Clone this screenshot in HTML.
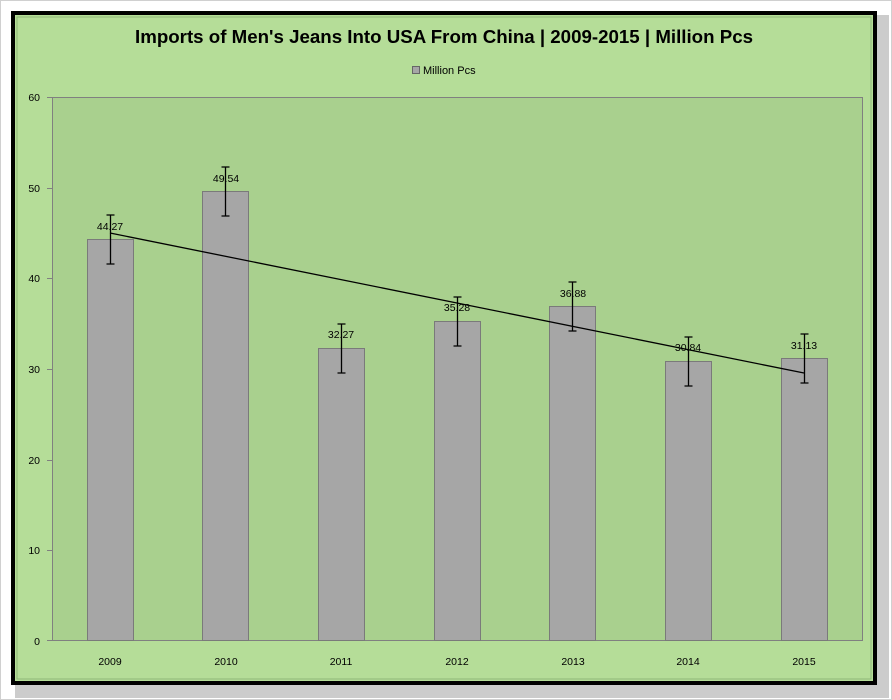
<!DOCTYPE html>
<html><head><meta charset="utf-8"><style>
body{margin:0;background:#fff;}
svg{display:block;font-family:"Liberation Sans",sans-serif;}
</style></head><body>
<svg width="892" height="700" viewBox="0 0 892 700">
<rect x="0.5" y="0.5" width="891" height="699" fill="#fff" stroke="#d0d0d0"/>
<rect x="15" y="15" width="874" height="683" fill="#9a9a9a" opacity="0.5"/>
<rect x="11" y="11" width="866" height="674" fill="#000"/>
<rect x="15" y="15" width="858" height="666" fill="#b5dd98"/>
<rect x="17" y="17" width="854" height="662" fill="none" stroke="#8fb878" stroke-width="1"/>
<text x="135" y="43" textLength="618" lengthAdjust="spacingAndGlyphs" font-size="18" font-weight="bold" fill="#000">Imports of Men's Jeans Into USA From China  | 2009-2015 | Million Pcs</text>
<rect x="412.5" y="66.5" width="7" height="7" fill="#a6a6a6" stroke="#666"/>
<text x="423" y="74" font-size="11" fill="#000">Million Pcs</text>
<rect x="52.5" y="97.5" width="810" height="543" fill="#a9d08e" stroke="#808080"/>
<g font-size="10.5" fill="#000" text-anchor="end">
<text x="40" y="101">60</text><text x="40" y="192">50</text><text x="40" y="282">40</text>
<text x="40" y="373">30</text><text x="40" y="464">20</text><text x="40" y="554">10</text><text x="40" y="645">0</text>
</g>
<g stroke="#808080"><line x1="47" y1="97.5" x2="52" y2="97.5"/><line x1="47" y1="188.5" x2="52" y2="188.5"/><line x1="47" y1="278.5" x2="52" y2="278.5"/><line x1="47" y1="369.5" x2="52" y2="369.5"/><line x1="47" y1="460.5" x2="52" y2="460.5"/><line x1="47" y1="550.5" x2="52" y2="550.5"/><line x1="47" y1="640.5" x2="52" y2="640.5"/></g>
<g fill="#a6a6a6" stroke="#7a7a7a">
<rect x="87.5" y="239.5" width="46" height="401"/>
<rect x="202.5" y="191.5" width="46" height="449"/>
<rect x="318.5" y="348.5" width="46" height="292"/>
<rect x="434.5" y="321.5" width="46" height="319"/>
<rect x="549.5" y="306.5" width="46" height="334"/>
<rect x="665.5" y="361.5" width="46" height="279"/>
<rect x="781.5" y="358.5" width="46" height="282"/>
</g>
<g stroke="#000" stroke-width="1.3">
<path d="M110.5 215v49M106.5 215h8M106.5 264h8"/>
<path d="M225.5 167v49M221.5 167h8M221.5 216h8"/>
<path d="M341.5 324v49M337.5 324h8M337.5 373h8"/>
<path d="M457.5 297v49M453.5 297h8M453.5 346h8"/>
<path d="M572.5 282v49M568.5 282h8M568.5 331h8"/>
<path d="M688.5 337v49M684.5 337h8M684.5 386h8"/>
<path d="M804.5 334v49M800.5 334h8M800.5 383h8"/>
<line x1="110" y1="233" x2="804" y2="373"/>
</g>
<g font-size="10.5" fill="#000" text-anchor="middle">
<text x="110" y="230">44.27</text><text x="226" y="182">49.54</text><text x="341" y="338">32.27</text>
<text x="457" y="311">35.28</text><text x="573" y="297">36.88</text><text x="688" y="351">30.84</text><text x="804" y="349">31.13</text>
</g>
<g font-size="10.5" fill="#000" text-anchor="middle">
<text x="110" y="665">2009</text><text x="226" y="665">2010</text><text x="341" y="665">2011</text><text x="457" y="665">2012</text><text x="573" y="665">2013</text><text x="688" y="665">2014</text><text x="804" y="665">2015</text>
</g>
</svg>
</body></html>
